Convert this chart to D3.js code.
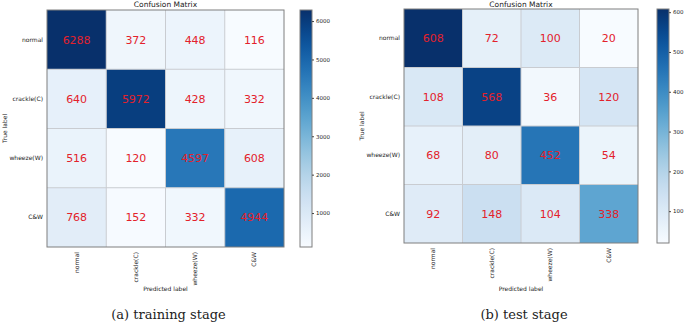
<!DOCTYPE html>
<html>
<head>
<meta charset="utf-8">
<script src="https://cdn.jsdelivr.net/npm/d3@7"></script>
<style>
  body { margin: 0; background: #fff; }
  svg { display: block; }
</style>
</head>
<body>
<div id="chart"></div>
<script>
const CLASSES = ['normal', 'crackle(C)', 'wheeze(W)', 'C&W'];

const TRAIN_MATRIX = [
    [6288, 372, 448, 116],
    [640, 5972, 428, 332],
    [516, 120, 4597, 608],
    [768, 152, 332, 4944],
];
const TRAIN_TICKS = [1000, 2000, 3000, 4000, 5000, 6000];

const TEST_MATRIX = [
    [608, 72, 100, 20],
    [108, 568, 36, 120],
    [68, 80, 452, 54],
    [92, 148, 104, 338],
];
const TEST_TICKS = [100, 200, 300, 400, 500, 600];

const CAPTIONS = ['(a)  training stage', '(b)  test stage'];

const W = 685, H = 323;
const SANS = "'DejaVu Sans', sans-serif";

const svg = d3.select("#chart").append("svg")
    .attr("width", W).attr("height", H);

let gradId = 0;

function drawPanel(matrix, ticks, caption, box) {
    const { x0, y0, size, cbX, cbW } = box;
    const flat = matrix.flat();
    const vmin = d3.min(flat), vmax = d3.max(flat);
    const color = d3.scaleSequential(d3.interpolateBlues).domain([vmin, vmax]);

    const xScale = d3.scaleBand().domain(CLASSES).range([x0, x0 + size]);
    const yScale = d3.scaleBand().domain(CLASSES).range([y0, y0 + size]);

    const g = svg.append("g");

    const cells = matrix.flatMap((row, i) => row.map((v, j) => ({ r: CLASSES[i], c: CLASSES[j], v })));

    g.selectAll(".cell").data(cells).join("rect")
        .attr("class", "cell")
        .attr("x", d => xScale(d.c)).attr("y", d => yScale(d.r))
        .attr("width", xScale.bandwidth()).attr("height", yScale.bandwidth())
        .attr("fill", d => color(d.v));

    // light grid lines between cells
    const inner = CLASSES.slice(1);
    g.selectAll(".vgrid").data(inner).join("line")
        .attr("x1", d => xScale(d)).attr("x2", d => xScale(d))
        .attr("y1", y0).attr("y2", y0 + size)
        .attr("stroke", "#c9ccd1").attr("stroke-width", 1);
    g.selectAll(".hgrid").data(inner).join("line")
        .attr("y1", d => yScale(d)).attr("y2", d => yScale(d))
        .attr("x1", x0).attr("x2", x0 + size)
        .attr("stroke", "#c9ccd1").attr("stroke-width", 1);

    g.selectAll(".val").data(cells).join("text")
        .attr("x", d => xScale(d.c) + xScale.bandwidth() / 2)
        .attr("y", d => yScale(d.r) + yScale.bandwidth() / 2)
        .attr("dy", "0.36em")
        .attr("text-anchor", "middle")
        .style("font-family", SANS).style("font-size", "11px")
        .attr("fill", "#e3212b")
        .text(d => d.v);

    g.append("rect")
        .attr("x", x0).attr("y", y0).attr("width", size).attr("height", size)
        .attr("fill", "none").attr("stroke", "#7f7f7f").attr("stroke-width", 1);

    // axes
    const yAxis = g.append("g").attr("transform", `translate(${x0},0)`)
        .call(d3.axisLeft(yScale).tickSize(0).tickPadding(4));
    yAxis.select(".domain").remove();
    yAxis.selectAll("text").style("font-family", SANS).style("font-size", "6px").attr("fill", "#222");

    const xAxis = g.append("g").attr("transform", `translate(0,${y0 + size})`)
        .call(d3.axisBottom(xScale).tickSize(0).tickPadding(5));
    xAxis.select(".domain").remove();
    xAxis.selectAll("text")
        .style("font-family", SANS).style("font-size", "6px").attr("fill", "#222")
        .attr("transform", "rotate(-90)")
        .attr("text-anchor", "end")
        .attr("x", -5).attr("y", 0).attr("dy", "0.32em");

    g.append("text")
        .attr("x", x0 + size / 2).attr("y", 7)
        .attr("text-anchor", "middle")
        .style("font-family", SANS).style("font-size", "7.5px").attr("fill", "#222")
        .text("Confusion Matrix");

    g.append("text")
        .attr("x", x0 + size / 2).attr("y", 291)
        .attr("text-anchor", "middle")
        .style("font-family", SANS).style("font-size", "6px").attr("fill", "#222")
        .text("Predicted label");

    g.append("text")
        .attr("transform", `translate(${x0 - 40},${y0 + size / 2}) rotate(-90)`)
        .attr("text-anchor", "middle")
        .style("font-family", SANS).style("font-size", "6px").attr("fill", "#222")
        .text("True label");

    // colorbar
    const id = "cb" + (gradId++);
    const grad = svg.append("defs").append("linearGradient")
        .attr("id", id).attr("x1", 0).attr("y1", 1).attr("x2", 0).attr("y2", 0);
    d3.range(0, 1.0001, 0.05).forEach(t => {
        grad.append("stop").attr("offset", t).attr("stop-color", d3.interpolateBlues(t));
    });
    const cbScale = d3.scaleLinear().domain([vmin, vmax]).range([y0 + size, y0]);
    g.append("rect")
        .attr("x", cbX).attr("y", y0).attr("width", cbW).attr("height", size)
        .attr("fill", `url(#${id})`).attr("stroke", "#7f7f7f").attr("stroke-width", 1);
    const cbAxis = g.append("g").attr("transform", `translate(${cbX + cbW},0)`)
        .call(d3.axisRight(cbScale).tickValues(ticks).tickFormat(d3.format("d")).tickSize(2).tickPadding(2));
    cbAxis.select(".domain").remove();
    cbAxis.selectAll("line").attr("stroke", "#444");
    cbAxis.selectAll("text").style("font-family", SANS).style("font-size", "5.5px").attr("fill", "#222");

    g.append("text")
        .attr("x", x0 + size / 2 + 3).attr("y", 319)
        .attr("text-anchor", "middle")
        .style("font-family", "'DejaVu Serif', serif").style("font-size", "13px").attr("fill", "#222")
        .text(caption);
}

drawPanel(TRAIN_MATRIX, TRAIN_TICKS, CAPTIONS[0], { x0: 47, y0: 10, size: 237, cbX: 300, cbW: 12 });
drawPanel(TEST_MATRIX, TEST_TICKS, CAPTIONS[1], { x0: 404, y0: 9, size: 234, cbX: 657, cbW: 12 });
</script>
</body>
</html>
